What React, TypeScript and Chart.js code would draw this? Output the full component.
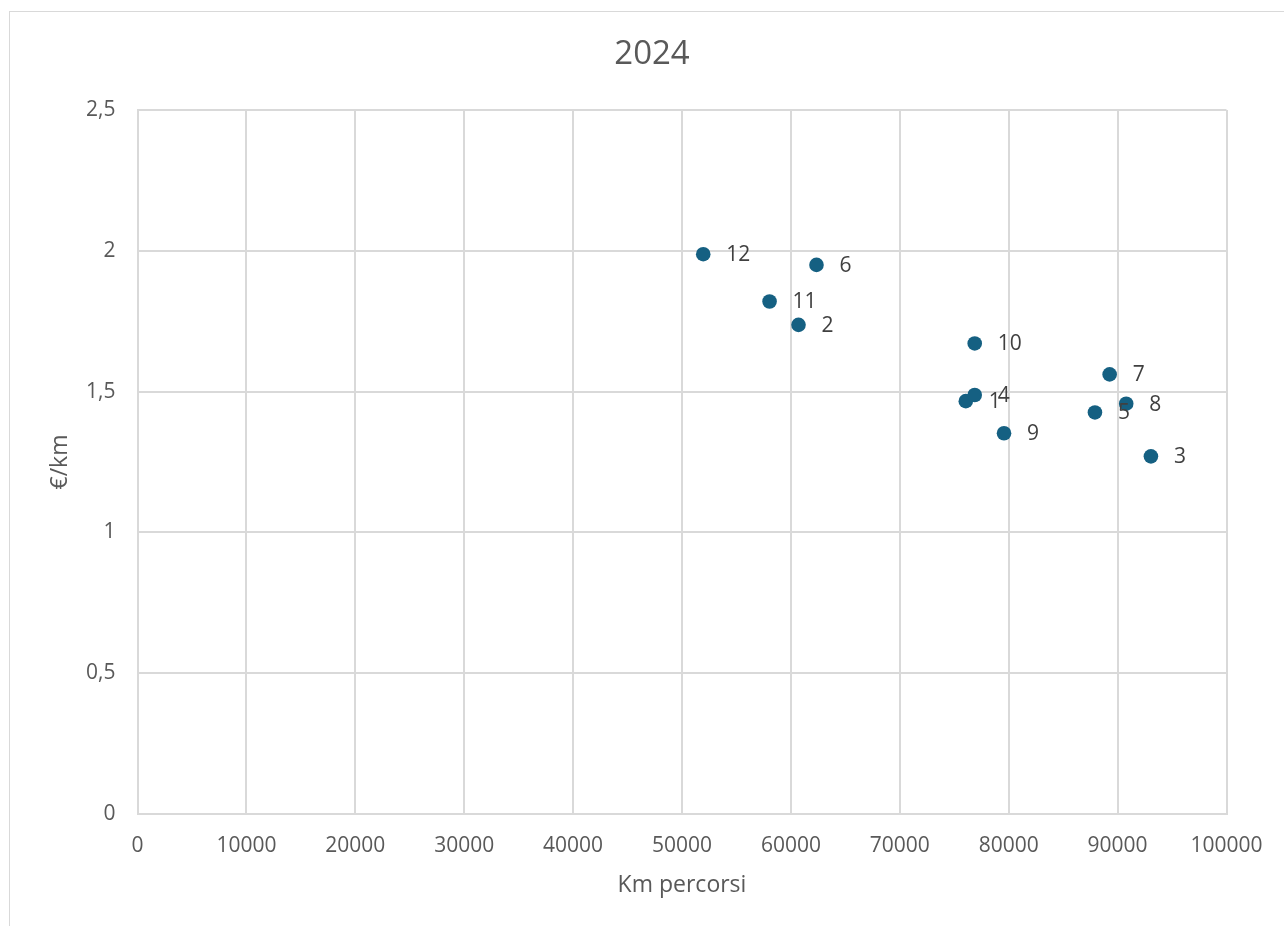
import React, { useEffect, useRef } from "react";
import { Chart, registerables } from "chart.js";

Chart.register(...registerables);

const chartTitle = "2024";
const xAxisTitle = "Km percorsi";
const yAxisTitle = "€/km";

const pointLabels = ["1", "2", "3", "4", "5", "6", "7", "8", "9", "10", "11", "12"];
const kmValues = [76060, 60700, 93060, 76880, 87920, 62350, 89270, 90790, 79570, 76880, 58040, 51950];
const costValues = [1.466, 1.737, 1.27, 1.488, 1.426, 1.95, 1.561, 1.457, 1.352, 1.671, 1.82, 1.988];

const xTickValues = [0, 10000, 20000, 30000, 40000, 50000, 60000, 70000, 80000, 90000, 100000];
const yTickValues = [0, 0.5, 1, 1.5, 2, 2.5];
const yTickLabels = ["0", "0,5", "1", "1,5", "2", "2,5"];

const FONT = "'Open Sans', 'Liberation Sans', sans-serif";
const W = 1284;
const H = 926;

const decorPlugin = {
  id: "decor",
  beforeDraw(chart: any) {
    const ctx = chart.ctx;
    ctx.save();
    ctx.fillStyle = "#ffffff";
    ctx.fillRect(0, 0, W, H);
    ctx.strokeStyle = "#d9d9d9";
    ctx.lineWidth = 1;
    ctx.strokeRect(9.5, 11.5, 1290, 1000);
    ctx.restore();
  },
  afterDatasetsDraw(chart: any) {
    const ctx = chart.ctx;
    const meta = chart.getDatasetMeta(0);
    ctx.save();
    ctx.font = `21px ${FONT}`;
    ctx.fillStyle = "#404040";
    ctx.textAlign = "left";
    ctx.textBaseline = "middle";
    meta.data.forEach((el: any, i: number) => {
      ctx.fillText(pointLabels[i], el.x + 23, el.y + 1);
    });
    ctx.restore();
  },
  afterDraw(chart: any) {
    const ctx = chart.ctx;
    const area = chart.chartArea;
    ctx.save();
    ctx.fillStyle = "#595959";
    ctx.textAlign = "center";
    ctx.textBaseline = "middle";
    ctx.font = `33px ${FONT}`;
    ctx.fillText(chartTitle, 652, 55);
    ctx.font = `23px ${FONT}`;
    ctx.fillText(xAxisTitle, (area.left + area.right) / 2, 885);
    ctx.translate(60, (area.top + area.bottom) / 2);
    ctx.rotate(-Math.PI / 2);
    ctx.fillText(yAxisTitle, 0, 0);
    ctx.restore();
  },
};

export default function App() {
  const canvasRef = useRef<HTMLCanvasElement | null>(null);

  useEffect(() => {
    if (!canvasRef.current) return;
    const chart = new Chart(canvasRef.current, {
      type: "scatter",
      data: {
        datasets: [
          {
            label: "€/km",
            data: kmValues.map((x, i) => ({ x, y: costValues[i] })),
            backgroundColor: "#156082",
            borderColor: "#156082",
            borderWidth: 0,
            pointRadius: 7.3,
          },
        ],
      },
      options: {
        animation: false,
        responsive: false,
        devicePixelRatio: 1,
        layout: { padding: { left: 0, top: 110, right: 57.5, bottom: 0 } },
        plugins: {
          legend: { display: false },
          tooltip: { enabled: false },
          title: { display: false },
        },
        scales: {
          x: {
            type: "linear",
            min: 0,
            max: 100000,
            afterBuildTicks: (scale: any) => {
              scale.ticks = xTickValues.map((v) => ({ value: v }));
            },
            afterFit: (scale: any) => {
              scale.height = 112;
            },
            ticks: {
              padding: 19,
              color: "#595959",
              font: { family: FONT, size: 21 },
              maxRotation: 0,
              autoSkip: false,
              callback: (v: any) => String(v),
            },
            grid: { color: "#d9d9d9", drawTicks: false, lineWidth: 2 },
            border: { color: "#d9d9d9", width: 2 },
          },
          y: {
            type: "linear",
            min: 0,
            max: 2.5,
            afterBuildTicks: (scale: any) => {
              scale.ticks = yTickValues.map((v) => ({ value: v }));
            },
            afterFit: (scale: any) => {
              scale.width = 137.5;
            },
            ticks: {
              padding: 22,
              color: "#595959",
              font: { family: FONT, size: 21 },
              autoSkip: false,
              callback: (v: any) => {
                const idx = yTickValues.indexOf(Number(v));
                return idx >= 0 ? yTickLabels[idx] : String(v).replace(".", ",");
              },
            },
            grid: { color: "#d9d9d9", drawTicks: false, lineWidth: 2 },
            border: { color: "#d9d9d9", width: 2 },
          },
        },
      },
      plugins: [decorPlugin],
    } as any);
    return () => chart.destroy();
  }, []);

  return (
    <div
      style={{
        position: "fixed",
        left: 0,
        top: 0,
        width: W,
        height: H,
        overflow: "hidden",
        background: "#ffffff",
      }}
    >
      <canvas ref={canvasRef} width={W} height={H} style={{ width: W, height: H, display: "block" }} />
    </div>
  );
}
